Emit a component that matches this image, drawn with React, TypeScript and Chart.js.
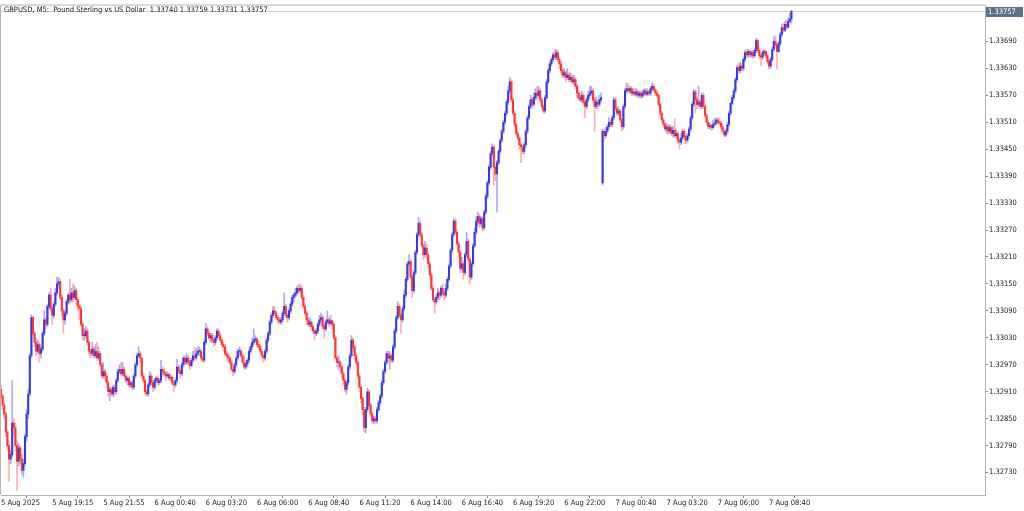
import React, { useEffect, useRef } from "react";
import { Chart, registerables } from "chart.js";

Chart.register(...registerables);

const TITLE = "GBPUSD, M5:  Pound Sterling vs US Dollar  1.33740 1.33759 1.33731 1.33757";
const BASE = 1.3;
const POINT = 0.00001;
const LAST_PRICE = 1.33757;

// OHLC in points above 1.30000 (M5 bars, 5 Aug 16:35 .. 7 Aug 09:50)
const opens = [
  2915,2900,2880,2860,2820,2790,2760,2770,2840,2830,
  2790,2755,2785,2760,2735,2750,2810,2860,2905,2990,
  3075,3040,3020,3000,3015,2995,3005,3040,3070,3060,
  3100,3125,3095,3080,3105,3130,3150,3155,3120,3090,
  3070,3085,3110,3125,3115,3130,3120,3135,3115,3100,
  3095,3060,3035,3035,3045,3020,3000,2995,3005,2990,
  3000,2985,2995,2970,2945,2955,2945,2930,2910,2915,
  2905,2920,2910,2935,2955,2960,2950,2960,2945,2935,
  2940,2925,2930,2920,2945,2970,2990,2995,2985,2945,
  2935,2910,2905,2925,2945,2930,2920,2935,2940,2930,
  2935,2960,2955,2950,2945,2948,2940,2942,2930,2925,
  2935,2965,2955,2950,2970,2985,2975,2985,2975,2968,
  2980,2990,2985,2995,3000,3000,2985,2980,3020,3050,
  3040,3030,3035,3025,3020,3030,3045,3035,3025,3015,
  3010,2995,2990,2985,2975,2960,2955,2970,2985,3000,
  3000,2990,2975,2965,2972,2980,3000,3010,3020,3025,
  3028,3015,3010,3000,2990,2985,3000,3025,3040,3065,
  3080,3090,3085,3075,3070,3065,3070,3085,3100,3080,
  3075,3090,3105,3120,3125,3130,3140,3135,3140,3120,
  3100,3085,3070,3060,3065,3055,3045,3040,3045,3060,
  3070,3075,3055,3050,3065,3070,3062,3068,3060,3030,
  2985,2975,2975,2965,2950,2935,2915,2930,2965,2990,
  3025,3010,2990,2975,2945,2920,2895,2870,2830,2870,
  2910,2880,2860,2845,2850,2845,2870,2885,2900,2930,
  2955,2975,2995,2985,2990,2980,3010,3045,3075,3100,
  3080,3070,3095,3125,3160,3195,3200,3165,3135,3175,
  3220,3260,3285,3260,3235,3215,3230,3215,3195,3170,
  3140,3115,3110,3120,3130,3125,3140,3130,3125,3140,
  3160,3190,3225,3260,3290,3265,3240,3220,3185,3195,
  3175,3215,3245,3205,3165,3195,3235,3265,3290,3300,
  3285,3295,3275,3310,3345,3375,3410,3440,3455,3410,
  3395,3420,3445,3470,3490,3510,3530,3555,3580,3600,
  3560,3530,3505,3485,3475,3460,3455,3445,3460,3490,
  3520,3545,3560,3550,3565,3575,3570,3580,3560,3545,
  3535,3565,3600,3625,3640,3650,3660,3655,3665,3650,
  3640,3625,3615,3620,3610,3615,3605,3610,3600,3605,
  3590,3575,3565,3560,3570,3555,3545,3560,3570,3575,
  3580,3560,3545,3555,3550,3560,3375,3490,3480,3490,
  3500,3510,3505,3520,3560,3540,3530,3535,3515,3500,
  3545,3580,3585,3580,3585,3575,3578,3572,3578,3570,
  3575,3568,3575,3580,3572,3578,3575,3585,3590,3582,
  3575,3570,3550,3530,3515,3505,3495,3500,3490,3498,
  3485,3492,3480,3485,3470,3465,3475,3490,3478,3470,
  3480,3495,3520,3550,3578,3560,3550,3555,3545,3570,
  3545,3525,3510,3500,3503,3498,3505,3508,3515,3510,
  3508,3500,3490,3482,3490,3505,3530,3552,3565,3580,
  3605,3632,3625,3635,3630,3650,3665,3660,3668,3660,
  3665,3658,3670,3692,3670,3658,3655,3665,3668,3658,
  3645,3635,3650,3672,3690,3682,3668,3685,3705,3720,
  3715,3728,3722,3735,3740,
];
const highs = [
  2925,2905,2885,2865,2825,2800,2780,2935,2850,2840,
  2800,2795,2790,2770,2760,2815,2870,2915,2995,3082,
  3078,3045,3030,3025,3020,3010,3045,3090,3075,3105,
  3130,3140,3100,3110,3140,3165,3165,3160,3125,3095,
  3090,3115,3130,3160,3140,3150,3145,3140,3120,3105,
  3100,3065,3050,3055,3050,3025,3005,3020,3010,3015,
  3020,3010,3000,2975,2975,2960,2950,2935,2920,2920,
  2925,2925,2940,2960,2970,2975,2975,2965,2950,2945,
  2945,2935,2935,2950,2975,2995,3010,3000,2985,2950,
  2940,2915,2930,2955,2950,2935,2940,2945,2945,2940,
  2980,2965,2960,2955,2955,2952,2948,2945,2935,2940,
  2982,2970,2960,2975,2990,2990,2995,2990,2980,2985,
  3000,3010,3005,3010,3010,3005,2990,3025,3062,3055,
  3045,3040,3040,3030,3035,3050,3050,3040,3030,3020,
  3015,3000,2995,2990,2980,2965,2975,2990,3005,3010,
  3005,2995,2990,2980,2985,3005,3015,3030,3050,3035,
  3030,3025,3015,3005,2995,3005,3030,3045,3070,3085,
  3100,3100,3090,3080,3075,3075,3090,3130,3105,3085,
  3095,3110,3125,3130,3140,3145,3150,3148,3145,3125,
  3105,3090,3075,3075,3070,3060,3050,3050,3065,3080,
  3085,3080,3060,3070,3090,3075,3080,3070,3065,3035,
  2990,2990,2980,2970,2955,2940,2935,2970,2995,3035,
  3030,3015,2995,2980,2950,2925,2900,2875,2875,2918,
  2915,2885,2865,2855,2855,2875,2890,2905,2935,2960,
  2980,3000,3000,3000,2995,3015,3050,3080,3110,3105,
  3085,3100,3135,3165,3200,3215,3205,3170,3180,3225,
  3265,3298,3290,3265,3240,3245,3240,3220,3200,3175,
  3145,3120,3125,3140,3135,3145,3150,3135,3150,3165,
  3195,3230,3265,3295,3295,3270,3245,3225,3210,3200,
  3220,3265,3250,3210,3200,3240,3275,3300,3310,3305,
  3300,3300,3315,3350,3380,3415,3445,3462,3460,3415,
  3425,3450,3475,3495,3515,3535,3560,3590,3610,3605,
  3565,3535,3510,3490,3480,3465,3460,3465,3495,3525,
  3550,3570,3565,3575,3585,3590,3590,3585,3565,3550,
  3570,3605,3630,3645,3655,3665,3672,3672,3670,3655,
  3645,3630,3630,3625,3630,3620,3620,3615,3615,3610,
  3595,3580,3575,3580,3575,3560,3565,3580,3590,3590,
  3585,3565,3565,3560,3570,3575,3495,3495,3498,3505,
  3520,3515,3525,3565,3565,3545,3545,3540,3520,3550,
  3585,3598,3595,3590,3590,3585,3585,3585,3582,3580,
  3580,3582,3585,3585,3585,3582,3590,3598,3595,3585,
  3580,3572,3555,3535,3520,3510,3508,3505,3505,3502,
  3500,3518,3495,3490,3475,3485,3495,3495,3482,3485,
  3500,3525,3555,3582,3582,3565,3590,3560,3575,3575,
  3550,3530,3515,3508,3506,3515,3518,3520,3520,3518,
  3512,3505,3495,3495,3510,3535,3555,3570,3585,3610,
  3636,3642,3644,3640,3655,3670,3673,3673,3670,3669,
  3670,3675,3697,3695,3675,3662,3670,3672,3672,3662,
  3650,3655,3678,3700,3702,3686,3690,3710,3728,3730,
  3735,3738,3742,3752,3759,
];
const lows = [
  2895,2870,2850,2810,2780,2710,2750,2765,2815,2780,
  2690,2745,2750,2725,2720,2745,2800,2850,2900,2985,
  3035,3010,2990,2995,2975,2985,3000,3035,3050,3055,
  3095,3090,3060,3075,3100,3125,3140,3115,3080,3040,
  3060,3080,3105,3105,3110,3110,3115,3105,3090,3070,
  3055,3025,3025,3030,3015,2990,2985,2990,2985,2985,
  2980,2980,2965,2940,2940,2935,2920,2900,2890,2900,
  2900,2900,2905,2930,2950,2945,2945,2940,2930,2925,
  2920,2920,2915,2915,2940,2965,2985,2975,2940,2930,
  2905,2900,2900,2920,2925,2910,2915,2930,2925,2925,
  2930,2945,2945,2935,2940,2935,2935,2925,2910,2920,
  2930,2950,2940,2945,2965,2970,2970,2970,2960,2965,
  2975,2980,2980,2990,2990,2980,2975,2975,3015,3035,
  3025,3020,3020,3010,3015,3025,3030,3020,3010,3000,
  2990,2980,2975,2970,2955,2945,2950,2965,2980,2990,
  2985,2970,2960,2960,2965,2975,2995,3005,3015,3020,
  3010,3005,2995,2985,2975,2980,2995,3020,3035,3060,
  3075,3080,3070,3065,3060,3060,3065,3080,3075,3065,
  3070,3085,3100,3110,3120,3125,3130,3130,3115,3095,
  3080,3060,3055,3055,3050,3040,3025,3035,3040,3055,
  3065,3050,3030,3045,3060,3055,3058,3050,3025,2980,
  2965,2960,2955,2940,2925,2910,2905,2925,2960,2985,
  3000,2980,2970,2940,2910,2885,2860,2820,2818,2865,
  2875,2855,2840,2838,2840,2840,2865,2880,2895,2925,
  2950,2970,2975,2960,2975,2975,3005,3040,3070,3075,
  3040,3065,3090,3120,3155,3190,3160,3120,3130,3170,
  3215,3255,3255,3230,3205,3210,3205,3185,3160,3135,
  3110,3085,3105,3115,3115,3120,3125,3115,3120,3135,
  3155,3185,3220,3255,3260,3235,3210,3175,3180,3160,
  3170,3210,3200,3150,3160,3190,3230,3260,3280,3275,
  3280,3268,3270,3305,3340,3370,3405,3435,3370,3380,
  3310,3415,3440,3465,3485,3505,3525,3550,3575,3555,
  3525,3500,3480,3470,3450,3420,3440,3440,3455,3485,
  3515,3540,3540,3545,3560,3560,3565,3555,3540,3530,
  3530,3560,3595,3620,3635,3645,3650,3650,3645,3630,
  3620,3610,3610,3600,3605,3600,3600,3595,3595,3585,
  3565,3560,3555,3555,3550,3520,3540,3555,3565,3570,
  3555,3490,3540,3540,3545,3555,3370,3470,3475,3485,
  3495,3500,3500,3515,3535,3525,3525,3510,3490,3495,
  3540,3575,3575,3575,3570,3570,3568,3568,3565,3565,
  3563,3565,3570,3568,3570,3570,3570,3580,3578,3570,
  3565,3545,3525,3510,3500,3490,3485,3482,3485,3480,
  3478,3475,3475,3465,3452,3460,3470,3472,3462,3465,
  3475,3490,3515,3545,3530,3540,3545,3540,3540,3540,
  3520,3505,3495,3495,3492,3495,3500,3505,3505,3503,
  3495,3485,3478,3478,3485,3500,3525,3548,3560,3575,
  3600,3620,3620,3625,3625,3645,3655,3655,3655,3655,
  3652,3655,3665,3665,3652,3636,3650,3660,3652,3640,
  3628,3630,3645,3668,3678,3629,3665,3680,3700,3710,
  3712,3718,3720,3732,3731,
];
const closes = [
  2900,2880,2860,2820,2790,2760,2770,2840,2830,2790,
  2755,2785,2760,2735,2750,2810,2860,2905,2990,3075,
  3040,3020,3000,3015,2995,3005,3040,3070,3060,3100,
  3125,3095,3080,3105,3130,3150,3155,3120,3090,3070,
  3085,3110,3125,3115,3130,3120,3135,3115,3100,3095,
  3060,3035,3035,3045,3020,3000,2995,3005,2990,3000,
  2985,2995,2970,2945,2955,2945,2930,2910,2915,2905,
  2920,2910,2935,2955,2960,2950,2960,2945,2935,2940,
  2925,2930,2920,2945,2970,2990,2995,2985,2945,2935,
  2910,2905,2925,2945,2930,2920,2935,2940,2930,2935,
  2960,2955,2950,2945,2948,2940,2942,2930,2925,2935,
  2965,2955,2950,2970,2985,2975,2985,2975,2968,2980,
  2990,2985,2995,3000,3000,2985,2980,3020,3050,3040,
  3030,3035,3025,3020,3030,3045,3035,3025,3015,3010,
  2995,2990,2985,2975,2960,2955,2970,2985,3000,3000,
  2990,2975,2965,2972,2980,3000,3010,3020,3025,3028,
  3015,3010,3000,2990,2985,3000,3025,3040,3065,3080,
  3090,3085,3075,3070,3065,3070,3085,3100,3080,3075,
  3090,3105,3120,3125,3130,3140,3135,3140,3120,3100,
  3085,3070,3060,3065,3055,3045,3040,3045,3060,3070,
  3075,3055,3050,3065,3070,3062,3068,3060,3030,2985,
  2975,2975,2965,2950,2935,2915,2930,2965,2990,3025,
  3010,2990,2975,2945,2920,2895,2870,2830,2870,2910,
  2880,2860,2845,2850,2845,2870,2885,2900,2930,2955,
  2975,2995,2985,2990,2980,3010,3045,3075,3100,3080,
  3070,3095,3125,3160,3195,3200,3165,3135,3175,3220,
  3260,3285,3260,3235,3215,3230,3215,3195,3170,3140,
  3115,3110,3120,3130,3125,3140,3130,3125,3140,3160,
  3190,3225,3260,3290,3265,3240,3220,3185,3195,3175,
  3215,3245,3205,3165,3195,3235,3265,3290,3300,3285,
  3295,3275,3310,3345,3375,3410,3440,3455,3410,3395,
  3420,3445,3470,3490,3510,3530,3555,3580,3600,3560,
  3530,3505,3485,3475,3460,3455,3445,3460,3490,3520,
  3545,3560,3550,3565,3575,3570,3580,3560,3545,3535,
  3565,3600,3625,3640,3650,3660,3655,3665,3650,3640,
  3625,3615,3620,3610,3615,3605,3610,3600,3605,3590,
  3575,3565,3560,3570,3555,3545,3560,3570,3575,3580,
  3560,3545,3555,3550,3560,3565,3490,3480,3490,3500,
  3510,3505,3520,3560,3540,3530,3535,3515,3500,3545,
  3580,3585,3580,3585,3575,3578,3572,3578,3570,3575,
  3568,3575,3580,3572,3578,3575,3585,3590,3582,3575,
  3570,3550,3530,3515,3505,3495,3500,3490,3498,3485,
  3492,3480,3485,3470,3465,3475,3490,3478,3470,3480,
  3495,3520,3550,3578,3560,3550,3555,3545,3570,3545,
  3525,3510,3500,3503,3498,3505,3508,3515,3510,3508,
  3500,3490,3482,3490,3505,3530,3552,3565,3580,3605,
  3632,3625,3635,3630,3650,3665,3660,3668,3660,3665,
  3658,3670,3692,3670,3658,3655,3665,3668,3658,3645,
  3635,3650,3672,3690,3682,3668,3685,3705,3720,3715,
  3728,3722,3735,3740,3757,
];

const timeTickIndex = [0, 32, 64, 96, 128, 160, 192, 224, 256, 288, 320, 352, 384, 416, 448, 480];
const timeTickLabels = [
  "5 Aug 2025", "5 Aug 19:15", "5 Aug 21:55", "6 Aug 00:40", "6 Aug 03:20", "6 Aug 06:00",
  "6 Aug 08:40", "6 Aug 11:20", "6 Aug 14:00", "6 Aug 16:40", "6 Aug 19:20", "6 Aug 22:00",
  "7 Aug 00:40", "7 Aug 03:20", "7 Aug 06:00", "7 Aug 08:40",
];
const priceTicks = [
  1.3273, 1.3279, 1.3285, 1.3291, 1.3297, 1.3303, 1.3309, 1.3315, 1.3321,
  1.3327, 1.3333, 1.3339, 1.3345, 1.3351, 1.3357, 1.3363, 1.3369, 1.3375,
];
const PRICE_MIN = 1.3268;
const PRICE_MAX = 1.3377;
const SLOT_COUNT = 615;

const FONT = "'DejaVu Sans Condensed', 'Liberation Sans', Arial, sans-serif";
const BULL = "#2e2ee0";
const BEAR = "#ff2a2a";
const BULL_WICK = "rgba(70,70,235,0.45)";
const BEAR_WICK = "rgba(255,70,70,0.45)";

const px = (v: number) => BASE + v * POINT;

const overlayPlugin = {
  id: "mtOverlay",
  beforeDraw(chart: any) {
    const { ctx, width, height } = chart;
    ctx.save();
    ctx.fillStyle = "#ffffff";
    ctx.fillRect(0, 0, width, height);
    ctx.restore();
  },
  beforeDatasetsDraw(chart: any) {
    const { ctx, chartArea: a, scales } = chart;
    const y = Math.round(scales.y.getPixelForValue(LAST_PRICE)) + 0.5;
    ctx.save();
    ctx.strokeStyle = "#cdd3db";
    ctx.lineWidth = 1;
    ctx.beginPath();
    ctx.moveTo(a.left, y);
    ctx.lineTo(a.right, y);
    ctx.stroke();
    ctx.restore();
  },
  afterDraw(chart: any) {
    const { ctx, chartArea: a, scales } = chart;
    ctx.save();
    ctx.strokeStyle = "#b4b4b4";
    ctx.lineWidth = 1;
    ctx.beginPath();
    ctx.moveTo(a.left - 0.5, a.bottom);
    ctx.lineTo(a.left - 0.5, a.top - 0.5);
    ctx.lineTo(a.right, a.top - 0.5);
    ctx.stroke();

    const y = Math.round(scales.y.getPixelForValue(LAST_PRICE));
    ctx.fillStyle = "#5e708c";
    ctx.fillRect(a.right + 1, y - 4, 37, 10);
    ctx.font = `7.5px ${FONT}`;
    ctx.fillStyle = "#ffffff";
    ctx.textBaseline = "middle";
    ctx.textAlign = "left";
    ctx.fillText(LAST_PRICE.toFixed(5), a.right + 3, y + 1);

    ctx.fillStyle = "#222222";
    ctx.fillText(TITLE, a.left + 3, a.top + 5);
    ctx.restore();
  },
};

export default function App() {
  const canvasRef = useRef<HTMLCanvasElement | null>(null);

  useEffect(() => {
    document.body.style.margin = "0";
    const canvas = canvasRef.current;
    if (!canvas) return;
    const n = Math.min(opens.length, highs.length, lows.length, closes.length);
    const wickData: any[] = [];
    const bodyData: any[] = [];
    const wickColors: string[] = [];
    const bodyColors: string[] = [];
    for (let i = 0; i < n; i++) {
      const bull = closes[i] >= opens[i];
      wickData.push({ x: i, y: [px(lows[i]), px(highs[i])] });
      bodyData.push({ x: i, y: [px(opens[i]), px(closes[i])] });
      wickColors.push(bull ? BULL_WICK : BEAR_WICK);
      bodyColors.push(bull ? BULL : BEAR);
    }

    const chart = new Chart(canvas, {
      type: "bar",
      data: {
        datasets: [
          {
            data: wickData,
            backgroundColor: wickColors,
            barThickness: 1,
            grouped: false,
            borderWidth: 0,
          } as any,
          {
            data: bodyData,
            backgroundColor: bodyColors,
            barThickness: 1.4,
            minBarLength: 1,
            grouped: false,
            borderWidth: 0,
          } as any,
        ],
      },
      options: {
        animation: false,
        responsive: false,
        devicePixelRatio: 1,
        events: [],
        layout: { padding: { top: 1, left: 1, right: 0, bottom: 0 } },
        plugins: { legend: { display: false }, tooltip: { enabled: false }, title: { display: false } },
        scales: {
          x: {
            type: "linear",
            position: "bottom",
            min: 0,
            max: SLOT_COUNT,
            offset: false,
            grid: { display: true, drawOnChartArea: false, drawTicks: true, tickLength: 3, color: "#8a8a8a" },
            border: { display: true, color: "#b4b4b4" },
            ticks: {
              align: "start",
              padding: 1,
              color: "#222222",
              autoSkip: false,
              maxRotation: 0,
              minRotation: 0,
              font: { family: FONT, size: 7.5 },
              callback: (_v: any, idx: number) => timeTickLabels[idx] ?? "",
            },
            afterBuildTicks: (s: any) => {
              s.ticks = timeTickIndex.map((v) => ({ value: v }));
            },
            afterFit: (s: any) => {
              s.height = 16;
            },
          } as any,
          y: {
            type: "linear",
            position: "right",
            min: PRICE_MIN,
            max: PRICE_MAX,
            grid: { display: true, drawOnChartArea: false, drawTicks: true, tickLength: 3, color: "#8a8a8a" },
            border: { display: true, color: "#b4b4b4" },
            ticks: {
              padding: 1,
              color: "#222222",
              font: { family: FONT, size: 7.5 },
              callback: (v: any) => Number(v).toFixed(5),
            },
            afterBuildTicks: (s: any) => {
              s.ticks = priceTicks.map((v) => ({ value: v }));
            },
            afterFit: (s: any) => {
              s.width = 39;
            },
          } as any,
        },
      },
      plugins: [overlayPlugin],
    });
    return () => chart.destroy();
  }, []);

  return (
    <div style={{ width: 1024, height: 511 }}>
      <canvas ref={canvasRef} width={1024} height={511} style={{ display: "block" }} />
    </div>
  );
}
